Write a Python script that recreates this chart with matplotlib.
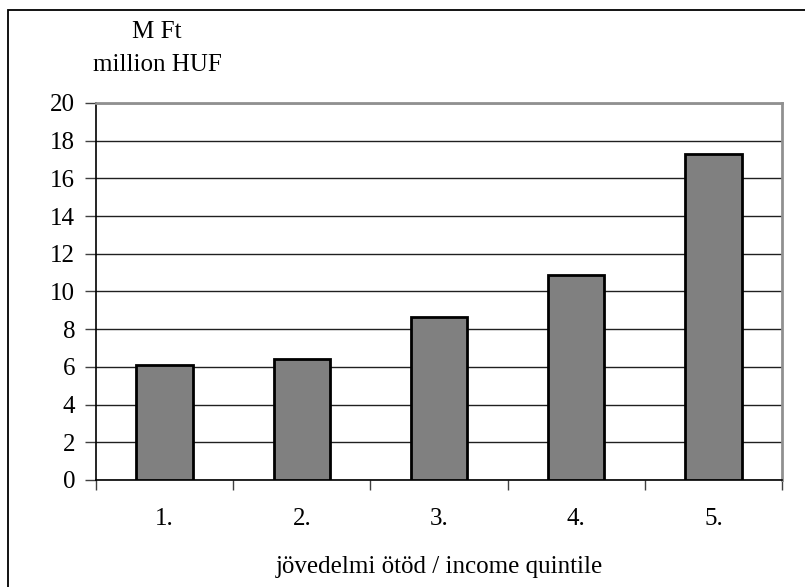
import matplotlib.pyplot as plt
from matplotlib.patches import Rectangle

# Data
categories = ['1.', '2.', '3.', '4.', '5.']
values = [6.1, 6.4, 8.65, 10.9, 17.3]
y_ticks = [0, 2, 4, 6, 8, 10, 12, 14, 16, 18, 20]

plt.rcParams['font.family'] = ['Liberation Serif', 'DejaVu Serif']
plt.rcParams['font.size'] = 18

W, H = 805, 587
fig = plt.figure(figsize=(W / 100, H / 100), dpi=100)
ax = fig.add_axes([96 / W, 1 - 480 / H, (782 - 96) / W, (480 - 103) / H])

# figure frame (left and top visible, right/bottom run off the image)
fig.patches.append(Rectangle((8 / W, -0.02), 1.02, 1 - 10 / H + 0.02,
                             transform=fig.transFigure, fill=False,
                             edgecolor='black', linewidth=1.3, zorder=0))

x = list(range(len(categories)))
ax.bar(x, values, width=0.41, color='#808080', edgecolor='black',
       linewidth=2, zorder=3)

ax.set_xlim(-0.5, len(categories) - 0.5)
ax.set_ylim(0, 20)
ax.set_yticks(y_ticks)
ax.set_yticklabels([str(t) for t in y_ticks])
ax.yaxis.grid(True, color='#202020', linewidth=1, zorder=1)
ax.set_axisbelow(True)

# category labels centred, ticks on the boundaries
ax.set_xticks([i - 0.5 for i in range(len(categories) + 1)])
ax.set_xticklabels([])
ax.set_xticks(x, minor=True)
ax.set_xticklabels(categories, minor=True)
ax.tick_params(axis='x', which='minor', length=0, pad=20)
ax.tick_params(axis='x', which='major', length=7, width=1, color='#404040')
ax.tick_params(axis='y', length=8, width=1, pad=7, color='#404040')

for s in ['left', 'bottom']:
    ax.spines[s].set_color('black')
    ax.spines[s].set_linewidth(1.2)
for s in ['top', 'right']:
    ax.spines[s].set_color('#909090')
    ax.spines[s].set_linewidth(2)

fig.text(157 / W, 1 - 32 / H, 'M Ft', ha='center', va='center')
fig.text(157 / W, 1 - 65 / H, 'million HUF', ha='center', va='center')
fig.text(439 / W, 1 - 567 / H, 'jövedelmi ötöd / income quintile',
         ha='center', va='center')

fig.savefig('out.png', dpi=100)
